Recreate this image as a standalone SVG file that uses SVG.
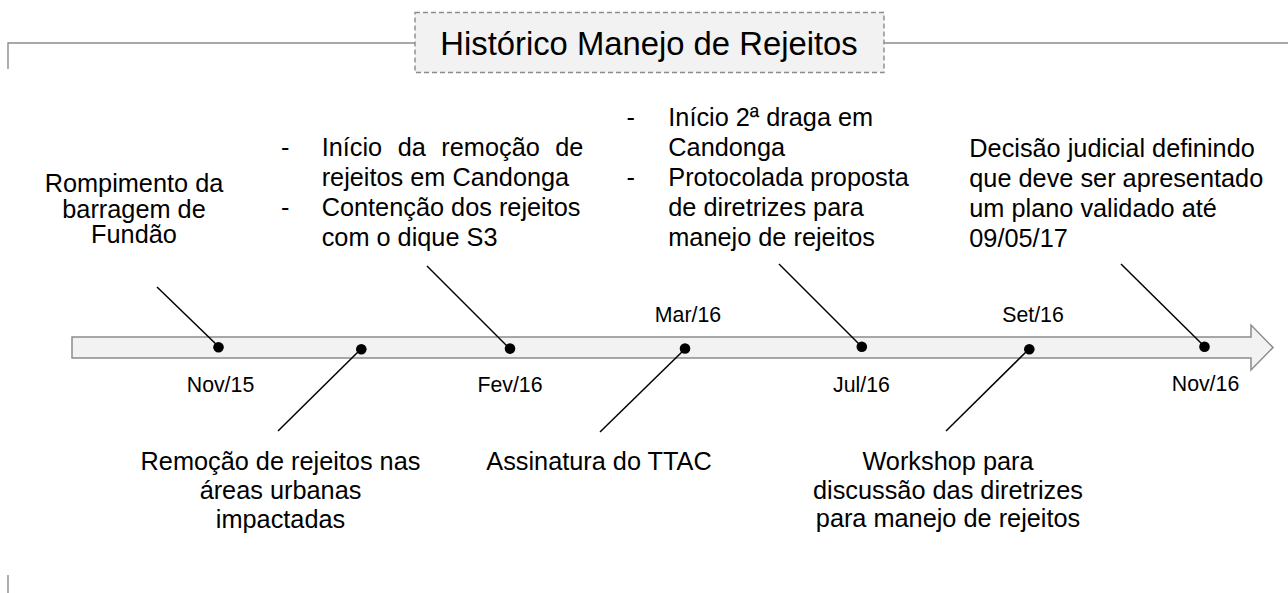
<svg xmlns="http://www.w3.org/2000/svg" width="1288" height="593" viewBox="0 0 1288 593">
<style>
.frame{fill:none;stroke:#8c8c8c;stroke-width:1.4}
.title-box{fill:#f2f2f2;stroke:#8c8c8c;stroke-width:1.4;stroke-dasharray:5 3}
.title{font-family:"Liberation Sans",Arial,sans-serif;font-size:32.8px;fill:#000;text-anchor:middle}
.body{font-family:"Liberation Sans",Arial,sans-serif;font-size:25.3px;fill:#000}
.c{text-anchor:middle}
.date{font-family:"Liberation Sans",Arial,sans-serif;font-size:21.3px;fill:#000;text-anchor:middle}
.axis{fill:#f2f2f2;stroke:#8c8c8c;stroke-width:1.5}
.lead{stroke:#000;stroke-width:1.5;fill:none}
.dot{fill:#000}
</style>
<rect width="1288" height="593" fill="#fff"/>
<g id="frame">
<path class="frame" d="M8,69 V43 H415 M884,43 H1288 M8,575 V593"/>
</g>
<g id="title">
<rect class="title-box" x="415" y="12.5" width="469" height="60"/>
<text class="title" x="649" y="55">Histórico Manejo de Rejeitos</text>
</g>
<g id="timeline">
<path class="axis" d="M72,337 H1251 V325 L1273,347.5 L1251,370 V358 H72 Z"/>
</g>
<g id="connectors">
<line class="lead" x1="157" y1="287" x2="219" y2="347"/>
<line class="lead" x1="278" y1="431" x2="361" y2="349"/>
<line class="lead" x1="427" y1="266" x2="510" y2="349"/>
<line class="lead" x1="600" y1="432" x2="685" y2="349"/>
<line class="lead" x1="779" y1="264" x2="862" y2="347"/>
<line class="lead" x1="946" y1="431" x2="1029" y2="349"/>
<line class="lead" x1="1121" y1="264" x2="1205" y2="347"/>
</g>
<g id="dots">
<circle class="dot" cx="218.5" cy="347.3" r="5.3"/>
<circle class="dot" cx="361.3" cy="349.3" r="5.3"/>
<circle class="dot" cx="510" cy="348.6" r="5.3"/>
<circle class="dot" cx="685" cy="348.5" r="5.3"/>
<circle class="dot" cx="861.8" cy="346.8" r="5.3"/>
<circle class="dot" cx="1029.3" cy="349.3" r="5.3"/>
<circle class="dot" cx="1204.5" cy="346.7" r="5.3"/>
</g>
<g id="dates">
<text class="date" x="220.5" y="391.7">Nov/15</text>
<text class="date" x="510" y="391.7">Fev/16</text>
<text class="date" x="688" y="321.7">Mar/16</text>
<text class="date" x="861.5" y="392">Jul/16</text>
<text class="date" x="1033" y="321.7">Set/16</text>
<text class="date" x="1205.5" y="391">Nov/16</text>
</g>
<g id="event-nov15">
<text class="body c"><tspan x="134" y="191.7">Rompimento da</tspan><tspan x="134" y="217.5">barragem de</tspan><tspan x="134" y="243.3">Fundão</tspan></text>
</g>
<g id="event-urbanas">
<text class="body c"><tspan x="280.5" y="470">Remoção de rejeitos nas</tspan><tspan x="280.5" y="499">áreas urbanas</tspan><tspan x="280.5" y="528">impactadas</tspan></text>
</g>
<g id="event-fev16">
<text class="body"><tspan x="281" y="156">-</tspan><tspan x="281" y="216">-</tspan></text>
<text class="body"><tspan x="321.7" y="156" word-spacing="8.5">Início da remoção de</tspan><tspan x="321.7" y="186">rejeitos em Candonga</tspan><tspan x="321.7" y="216">Contenção dos rejeitos</tspan><tspan x="321.7" y="246">com o dique S3</tspan></text>
</g>
<g id="event-ttac">
<text class="body c" x="599" y="470">Assinatura do TTAC</text>
</g>
<g id="event-jul16">
<text class="body"><tspan x="626.5" y="126">-</tspan><tspan x="626.5" y="186">-</tspan></text>
<text class="body"><tspan x="668.3" y="126">Início 2ª draga em</tspan><tspan x="668.3" y="156">Candonga</tspan><tspan x="668.3" y="186">Protocolada proposta</tspan><tspan x="668.3" y="216">de diretrizes para</tspan><tspan x="668.3" y="246">manejo de rejeitos</tspan></text>
</g>
<g id="event-workshop">
<text class="body c"><tspan x="948" y="470">Workshop para</tspan><tspan x="948" y="498.5">discussão das diretrizes</tspan><tspan x="948" y="527">para manejo de rejeitos</tspan></text>
</g>
<g id="event-nov16">
<text class="body"><tspan x="969.3" y="157">Decisão judicial definindo</tspan><tspan x="969.3" y="187">que deve ser apresentado</tspan><tspan x="969.3" y="217">um plano validado até</tspan><tspan x="969.3" y="247">09/05/17</tspan></text>
</g>
</svg>
